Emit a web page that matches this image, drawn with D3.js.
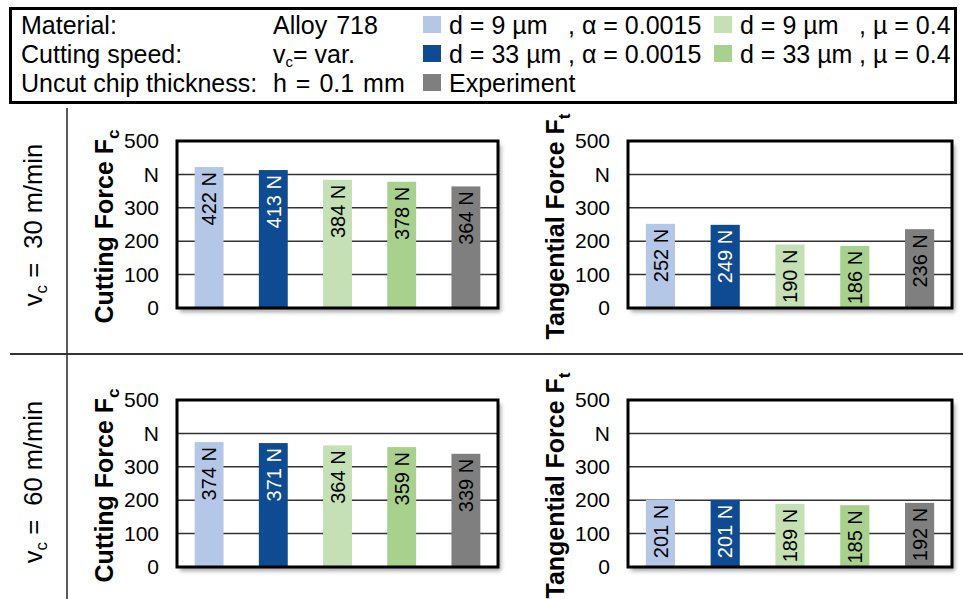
<!DOCTYPE html>
<html>
<head>
<meta charset="utf-8">
<script src="https://cdn.jsdelivr.net/npm/d3@7"></script>
<style>
  html, body { margin: 0; padding: 0; background: #fff; }
  svg { display: block; font-family: "Liberation Sans", Arial, sans-serif; }
</style>
</head>
<body>
<svg id="chart" width="963" height="599"></svg>
<script>
// ---- data ----
const categories = ["d9_alpha", "d33_alpha", "d9_mu", "d33_mu", "experiment"];
const seriesColors = ["#b4c7e7", "#0e4b92", "#c5e0b4", "#a9d18e", "#7f7f7f"];
const labelColors = ["#000", "#fff", "#000", "#000", "#000"];
const cuttingForce30 = [422, 413, 384, 378, 364];
const tangentialForce30 = [252, 249, 190, 186, 236];
const cuttingForce60 = [374, 371, 364, 359, 339];
const tangentialForce60 = [201, 201, 189, 185, 192];
const yTickValues = [0, 100, 200, 300, 400, 500];
const yTickLabels = ["0", "100", "200", "300", "N", "500"];
const legendRows = [
  ["Material:", "Alloy 718"],
  ["Cutting speed:", "vc"],
  ["Uncut chip thickness:", "h = 0.1 mm"]
];
const legendItems = [
  { c: 0, a: "d = 9 µm", b: ", α = 0.0015" },
  { c: 2, a: "d = 9 µm", b: ", µ = 0.4" },
  { c: 1, a: "d = 33 µm", b: ", α = 0.0015" },
  { c: 3, a: "d = 33 µm", b: ", µ = 0.4" },
  { c: 4, a: "Experiment", b: "" }
];

const svg = d3.select("#chart");
const defs = svg.append("defs");
const f = defs.append("filter").attr("id", "shadow")
  .attr("x", "-5%").attr("y", "-5%").attr("width", "115%").attr("height", "120%");
f.append("feDropShadow").attr("dx", 3).attr("dy", 4).attr("stdDeviation", 2)
  .attr("flood-color", "#000").attr("flood-opacity", 0.35);

// ---- legend box ----
svg.append("rect").attr("x", 10.5).attr("y", 8.5).attr("width", 945).attr("height", 94)
  .attr("fill", "#fff").attr("stroke", "#000").attr("stroke-width", 3);

const rowY = [34, 63, 92];
const lg = svg.append("g").attr("font-size", 25).attr("fill", "#000");
legendRows.forEach((r, i) => {
  lg.append("text").attr("x", 21).attr("y", rowY[i]).text(r[0]);
  if (r[1] === "vc") {
    const t = lg.append("text").attr("x", 273).attr("y", rowY[i]);
    t.append("tspan").text("v");
    t.append("tspan").attr("font-size", 15).attr("dy", 4).text("c");
    t.append("tspan").attr("dy", -4).text("= var.");
  } else {
    lg.append("text").attr("x", 273).attr("y", rowY[i]).attr("word-spacing", 2).text(r[1]);
  }
});
const itemPos = [
  { x: 423, row: 0, bx: 568 }, { x: 714, row: 0, bx: 859 },
  { x: 423, row: 1, bx: 568 }, { x: 714, row: 1, bx: 859 },
  { x: 423, row: 2, bx: 0 }
];
legendItems.forEach((it, i) => {
  const p = itemPos[i];
  const y = rowY[p.row];
  lg.append("rect").attr("x", p.x).attr("y", y - 18).attr("width", 18).attr("height", 17)
    .attr("fill", seriesColors[it.c]);
  lg.append("text").attr("x", p.x + 26).attr("y", y).text(it.a);
  if (it.b) lg.append("text").attr("x", p.bx).attr("y", y).text(it.b);
});

// ---- dividers ----
svg.append("line").attr("x1", 67).attr("x2", 67).attr("y1", 108).attr("y2", 599)
  .attr("stroke", "#222").attr("stroke-width", 1.5);
svg.append("line").attr("x1", 10).attr("x2", 963).attr("y1", 354).attr("y2", 354)
  .attr("stroke", "#333").attr("stroke-width", 2);

// ---- row labels ----
function rowLabel(cy, speed) {
  const t = svg.append("text").attr("transform", `translate(42,${cy}) rotate(-90)`)
    .attr("text-anchor", "middle").attr("font-size", 25.5).attr("xml:space", "preserve");
  t.append("tspan").text("v");
  t.append("tspan").attr("font-size", 17).attr("dy", 5).text("c");
  t.append("tspan").attr("dy", -5).text(" =  " + speed + " m/min");
}
rowLabel(225, 30);
rowLabel(482, 60);

// ---- panels ----
function panel(values, box, title, sub, titleX) {
  const y = d3.scaleLinear().domain([0, 500]).range([box.b, box.t]);
  const x = d3.scaleBand().domain(categories).range([box.l, box.r])
    .paddingInner(0.55).paddingOuter(0.275);
  const g = svg.append("g");
  g.append("rect").attr("x", box.l).attr("y", box.t).attr("width", box.r - box.l)
    .attr("height", box.b - box.t).attr("fill", "#fff").attr("filter", "url(#shadow)");
  g.selectAll(".grid").data([100, 200, 300, 400]).join("line")
    .attr("x1", box.l).attr("x2", box.r).attr("y1", d => y(d)).attr("y2", d => y(d))
    .attr("stroke", "#333").attr("stroke-width", 1.5);
  g.selectAll(".bar").data(values).join("rect")
    .attr("x", (d, i) => x(categories[i])).attr("width", x.bandwidth())
    .attr("y", d => y(d)).attr("height", d => y(0) - y(d))
    .attr("fill", (d, i) => seriesColors[i]);
  g.selectAll(".vl").data(values).join("text")
    .attr("transform", (d, i) => `translate(${x(categories[i]) + x.bandwidth() / 2},${y(d) + 5}) rotate(-90)`)
    .attr("text-anchor", "end").attr("dy", "0.36em").attr("font-size", 20)
    .attr("fill", (d, i) => labelColors[i]).text(d => d + " N");
  g.append("rect").attr("x", box.l).attr("y", box.t).attr("width", box.r - box.l)
    .attr("height", box.b - box.t).attr("fill", "none").attr("stroke", "#000").attr("stroke-width", 3);
  const axis = d3.axisLeft(y).tickValues(yTickValues)
    .tickFormat((d, i) => yTickLabels[i]).tickSize(0).tickPadding(18);
  const ag = g.append("g").attr("transform", `translate(${box.l},0)`).call(axis);
  ag.select(".domain").remove();
  ag.selectAll("text").attr("font-size", 21).attr("fill", "#000")
    .attr("font-family", "'Liberation Sans', Arial, sans-serif");
  const t = g.append("text")
    .attr("transform", `translate(${titleX},${(box.t + box.b) / 2 + 2}) rotate(-90)`)
    .attr("text-anchor", "middle").attr("font-size", 25).attr("font-weight", "bold");
  t.append("tspan").text(title);
  t.append("tspan").attr("font-size", 17).attr("dy", 6).text(sub);
}

panel(cuttingForce30, { l: 177, r: 498, t: 141, b: 308 }, "Cutting Force F", "c", 113);
panel(tangentialForce30, { l: 628, r: 952, t: 141, b: 308 }, "Tangential Force F", "t", 564);
panel(cuttingForce60, { l: 177, r: 498, t: 400, b: 567 }, "Cutting Force F", "c", 113);
panel(tangentialForce60, { l: 628, r: 952, t: 400, b: 567 }, "Tangential Force F", "t", 564);
</script>
</body>
</html>
